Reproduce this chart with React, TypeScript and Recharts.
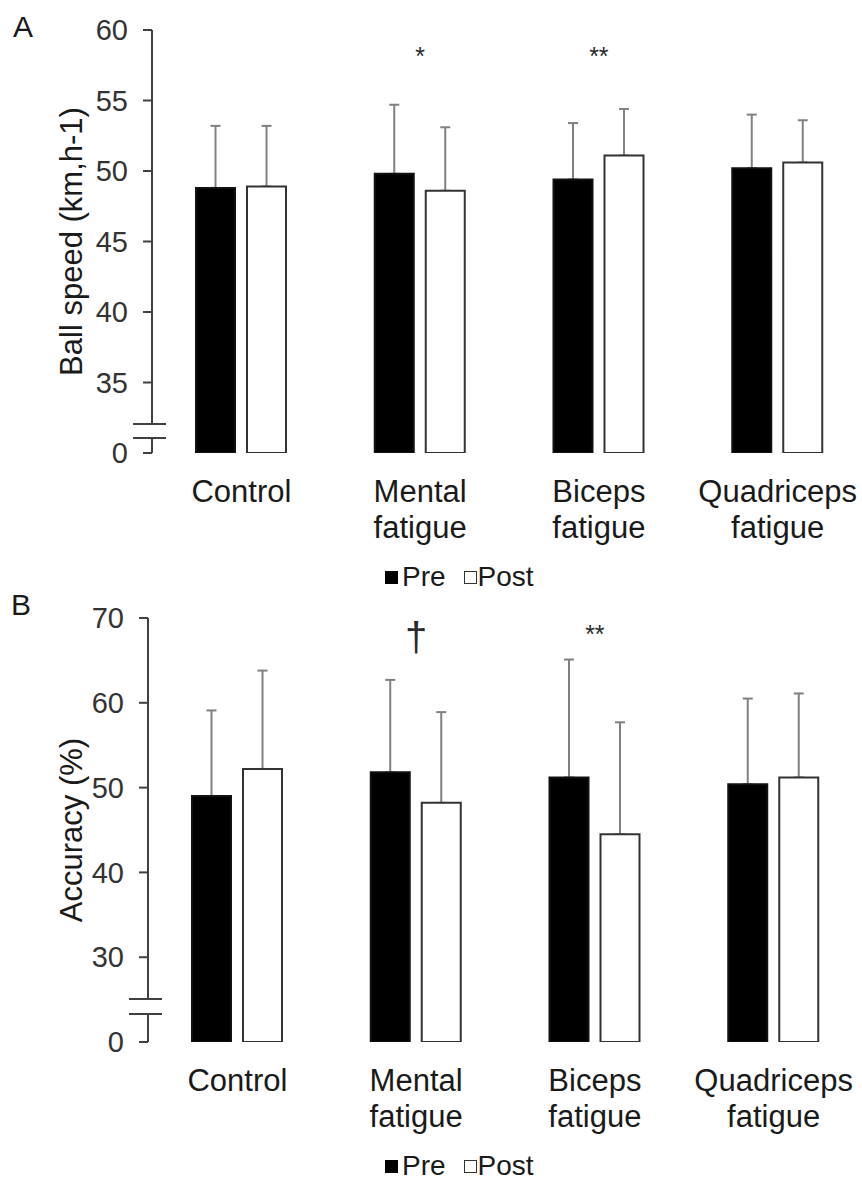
import React from 'react';
import { BarChart, Bar, XAxis, YAxis, ErrorBar, Legend, ReferenceDot } from 'recharts';

// Groups and series
const groups = ['Control', 'Mental fatigue', 'Biceps fatigue', 'Quadriceps fatigue'];
const seriesNames = ['Pre', 'Post'];

// Ball speed (km,h-1): means and SD
const speedPre = [48.8, 49.8, 49.4, 50.2];
const speedPost = [48.9, 48.6, 51.1, 50.6];
const speedPreSd = [4.4, 4.9, 4.0, 3.8];
const speedPostSd = [4.3, 4.5, 3.3, 3.0];
const speedTicks = [30, 35, 40, 45, 50, 55, 60];
const speedTickLabels = ['0', '35', '40', '45', '50', '55', '60'];
const speedMarks = [
  { group: 'Mental fatigue', text: '*' },
  { group: 'Biceps fatigue', text: '**' },
];
const speedMarkLevel = 57.5;

// Accuracy (%): means and SD
const accPre = [49.0, 51.8, 51.2, 50.4];
const accPost = [52.2, 48.2, 44.5, 51.2];
const accPreSd = [10.1, 10.9, 13.9, 10.1];
const accPostSd = [11.6, 10.7, 13.2, 9.9];
const accTicks = [20, 30, 40, 50, 60, 70];
const accTickLabels = ['0', '30', '40', '50', '60', '70'];
const accMarks = [
  { group: 'Mental fatigue', text: '†' },
  { group: 'Biceps fatigue', text: '**' },
];
const accMarkLevel = 67;

const FONT = '"Liberation Sans", Arial, sans-serif';
const AXIS = '#404040';
const TICK_SIZE = 9;
const TICK_MARGIN = 15;

function buildRows(pre: number[], post: number[], preSd: number[], postSd: number[]) {
  return groups.map((group, i) => ({
    group,
    pre: pre[i],
    post: post[i],
    preErr: [0, preSd[i]],
    postErr: [0, postSd[i]],
  }));
}

const speedRows = buildRows(speedPre, speedPost, speedPreSd, speedPostSd);
const accRows = buildRows(accPre, accPost, accPreSd, accPostSd);

const GroupTick = (props: any) => {
  const { x, y, payload } = props;
  const lines = String(payload.value).split(' ');
  return (
    <text x={x} y={y} textAnchor="middle" fontFamily={FONT} fontSize={31} fill="#1a1a1a">
      {lines.map((ln, i) => (
        <tspan key={i} x={x} dy={i === 0 ? 49 : 36}>
          {ln}
        </tspan>
      ))}
    </text>
  );
};

const makeValueTick = (ticks: number[], labels: string[], breakOffsets: [number, number]) => (props: any) => {
  const { x, y, payload } = props;
  const idx = ticks.indexOf(payload.value);
  const axisX = x + TICK_SIZE + TICK_MARGIN;
  const isBase = idx === 0;
  return (
    <g>
      {isBase && (
        <g>
          <rect
            x={axisX - 3}
            y={y + breakOffsets[0] + 1}
            width={6}
            height={breakOffsets[1] - breakOffsets[0] - 2}
            fill="#fff"
          />
          <line x1={axisX - 19} x2={axisX + 14} y1={y + breakOffsets[0]} y2={y + breakOffsets[0]} stroke={AXIS} strokeWidth={2} />
          <line x1={axisX - 19} x2={axisX + 14} y1={y + breakOffsets[1]} y2={y + breakOffsets[1]} stroke={AXIS} strokeWidth={2} />
        </g>
      )}
      <text x={x} y={y} dy="0.355em" textAnchor="end" fontFamily={FONT} fontSize={29} fill="#333">
        {labels[idx]}
      </text>
    </g>
  );
};

const makeYLabel = (text: string) => (props: any) => {
  const vb = props.viewBox || props;
  const cx = 82;
  const cy = vb.y + vb.height / 2;
  return (
    <text
      x={cx}
      y={cy}
      textAnchor="middle"
      transform={`rotate(-90, ${cx}, ${cy})`}
      fontFamily={FONT}
      fontSize={31}
      fill="#1a1a1a"
    >
      {text}
    </text>
  );
};

const LegendContent = (props: any) => {
  const payload = [...(props.payload || [])].sort(
    (a: any, b: any) => seriesNames.indexOf(a.value) - seriesNames.indexOf(b.value)
  );
  return (
    <div
      style={{
        display: 'flex',
        alignItems: 'center',
        height: 30,
        lineHeight: '30px',
        fontFamily: FONT,
        fontSize: 28,
        color: '#1a1a1a',
        whiteSpace: 'nowrap',
      }}
    >
      {payload.map((entry: any, i: number) => (
        <span key={i} style={{ display: 'flex', alignItems: 'center', marginRight: i === 0 ? 18 : 0 }}>
          <span
            style={{
              display: 'inline-block',
              width: 13,
              height: 13,
              boxSizing: 'border-box',
              background: entry.color,
              border: `1.5px solid ${i === 0 ? '#000' : '#333'}`,
              marginRight: i === 0 ? 4 : 1,
            }}
          />
          <span>{entry.value}</span>
        </span>
      ))}
    </div>
  );
};

// Significance symbols; the dagger is drawn larger and sits a little lower
const markShape = (text: string) => (p: any) => {
  const isDagger = text === '†';
  return (
    <text
      x={p.cx}
      y={p.cy}
      dy={isDagger ? 8 : 0}
      textAnchor="middle"
      fontFamily={FONT}
      fontSize={isDagger ? 40 : 25}
      fill="#2a2a2a"
    >
      {text}
    </text>
  );
};

type PanelProps = {
  top: number;
  width: number;
  height: number;
  axisWidth: number;
  marginBottom: number;
  rows: any[];
  domain: [number, number];
  ticks: number[];
  tickLabels: string[];
  breakOffsets: [number, number];
  yLabel: string;
  marks: { group: string; text: string }[];
  markLevel: number;
};

function Panel(p: PanelProps) {
  return (
    <div style={{ position: 'absolute', left: 0, top: p.top }}>
      <BarChart
        width={p.width}
        height={p.height}
        data={p.rows}
        margin={{ top: 30, right: 0, bottom: p.marginBottom, left: 0 }}
        barSize={39}
        barGap={12}
      >
        <XAxis
          dataKey="group"
          axisLine={false}
          tickLine={false}
          tickSize={0}
          tickMargin={0}
          height={109}
          interval={0}
          tick={<GroupTick />}
        />
        <YAxis
          type="number"
          domain={p.domain}
          ticks={p.ticks}
          allowDataOverflow
          width={p.axisWidth}
          axisLine={{ stroke: AXIS, strokeWidth: 2 }}
          tickLine={{ stroke: AXIS, strokeWidth: 2 }}
          tickSize={TICK_SIZE}
          tickMargin={TICK_MARGIN}
          tick={makeValueTick(p.ticks, p.tickLabels, p.breakOffsets)}
          label={makeYLabel(p.yLabel)}
        />
        <Bar dataKey="pre" name={seriesNames[0]} fill="#000" stroke="#111" strokeWidth={2} isAnimationActive={false}>
          <ErrorBar dataKey="preErr" direction="y" width={5} stroke="#808080" strokeWidth={2} isAnimationActive={false} zIndex={100} />
        </Bar>
        <Bar dataKey="post" name={seriesNames[1]} fill="#fff" stroke="#333" strokeWidth={2} isAnimationActive={false}>
          <ErrorBar dataKey="postErr" direction="y" width={5} stroke="#808080" strokeWidth={2} isAnimationActive={false} zIndex={100} />
        </Bar>
        {p.marks.map((m) => (
          <ReferenceDot key={m.group} x={m.group} y={p.markLevel} r={0} shape={markShape(m.text)} />
        ))}
        <Legend
          verticalAlign="bottom"
          align="left"
          itemSorter={null as any}
          wrapperStyle={{ left: 385, bottom: p.marginBottom, width: 'auto', height: 30 }}
          content={LegendContent}
        />
      </BarChart>
    </div>
  );
}

const letterStyle: React.CSSProperties = {
  position: 'absolute',
  left: 13,
  fontFamily: FONT,
  fontSize: 30,
  lineHeight: '30px',
  color: '#1a1a1a',
};

export default function App() {
  return (
    <div
      style={{
        position: 'absolute',
        left: 0,
        top: 0,
        width: 862,
        height: 1183,
        overflow: 'hidden',
        background: '#fff',
      }}
    >
      <div style={{ ...letterStyle, top: 12 }}>A</div>
      <div style={{ ...letterStyle, top: 590, left: 11 }}>B</div>
      <Panel
        top={0}
        width={867}
        height={600}
        axisWidth={152}
        marginBottom={8}
        rows={speedRows}
        domain={[30, 60]}
        ticks={speedTicks}
        tickLabels={speedTickLabels}
        breakOffsets={[-29, -15]}
        yLabel="Ball speed (km,h-1)"
        marks={speedMarks}
        markLevel={speedMarkLevel}
      />
      <Panel
        top={588}
        width={863}
        height={595}
        axisWidth={148}
        marginBottom={2}
        rows={accRows}
        domain={[20, 70]}
        ticks={accTicks}
        tickLabels={accTickLabels}
        breakOffsets={[-43, -28]}
        yLabel="Accuracy (%)"
        marks={accMarks}
        markLevel={accMarkLevel}
      />
    </div>
  );
}
